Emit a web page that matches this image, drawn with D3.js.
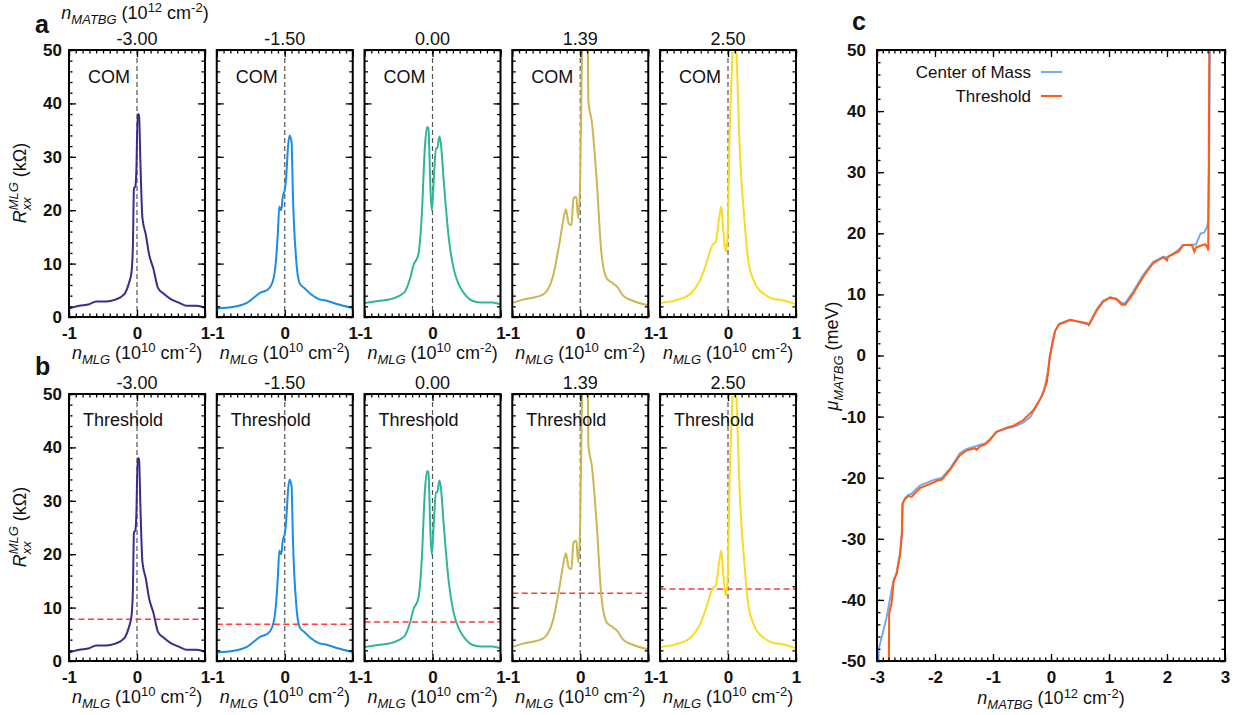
<!DOCTYPE html>
<html><head><meta charset="utf-8">
<script src="https://cdn.jsdelivr.net/npm/d3@7"></script>
<style>
body{margin:0;background:#fff}
text{font-family:"Liberation Sans",Arial,sans-serif;fill:#111}
</style></head>
<body><svg id="chart" width="1244" height="715"></svg>
<script>
// ---------------- data ----------------
const densityLabels = ["-3.00","-1.50","0.00","1.39","2.50"];
const curveColors = ["#3b2c8c","#1b8ce3","#2fb597","#cdb551","#f9dc1f"];
const thresholds = [7.8, 6.9, 7.3, 12.7, 13.5];

// R_xx^MLG (kOhm) vs n_MLG (1e10 cm^-2), one array per n_MATBG
const rxx_m300 = [[-1,1.6],[-0.85,2.1],[-0.7,2.4],[-0.6,2.9],[-0.46,2.9],[-0.31,3.3],[-0.23,3.8],[-0.17,4.6],[-0.12,6.3],[-0.08,8.5],[-0.06,13.5],[-0.045,24.1],[-0.025,24.4],[-0.01,27.2],[0.01,38],[0.03,37.8],[0.05,29],[0.08,18.5],[0.13,15.4],[0.18,11.6],[0.24,9.1],[0.31,5.4],[0.39,4.4],[0.49,3.4],[0.63,2.6],[0.73,2.1],[0.88,2.1],[1,1.7]];
const rxx_m150 = [[-1,1.6],[-0.75,1.9],[-0.55,2.7],[-0.35,4.6],[-0.25,5.1],[-0.18,6.5],[-0.13,10.4],[-0.10,16],[-0.08,20.7],[-0.05,20],[-0.03,22.5],[0.0,23.8],[0.02,26],[0.05,32.2],[0.07,34],[0.10,32.8],[0.12,22.8],[0.17,10.4],[0.22,6.3],[0.29,5.4],[0.39,4.2],[0.49,3.4],[0.63,3.0],[0.78,2.4],[1,1.7]];
const rxx_000 = [[-1,2.6],[-0.8,3.0],[-0.6,3.4],[-0.41,4.7],[-0.33,7.2],[-0.28,9.7],[-0.21,11.6],[-0.16,18.5],[-0.11,32.2],[-0.08,35.6],[-0.06,35.3],[-0.03,23.8],[-0.01,20],[0.02,26],[0.05,31.6],[0.07,31.6],[0.10,33.8],[0.12,32.8],[0.17,24.7],[0.24,14.7],[0.31,9.1],[0.39,6],[0.49,4],[0.59,3],[0.73,2.7],[0.88,2.7],[1,2.4]];
const rxx_139 = [[-1,2.6],[-0.85,3.2],[-0.55,4.2],[-0.41,7.2],[-0.31,13.5],[-0.23,19.4],[-0.21,20.2],[-0.17,17.5],[-0.13,17.2],[-0.10,22.2],[-0.06,22.5],[-0.03,18.5],[0.0,26],[0.02,44.7],[0.04,56],[0.08,62],[0.11,52],[0.12,40.3],[0.17,36.6],[0.24,26],[0.31,12.2],[0.39,7.2],[0.46,6.5],[0.54,5.7],[0.63,4],[0.78,3],[1,2.2]];
const rxx_250 = [[-1,2.6],[-0.75,3.2],[-0.55,4.4],[-0.41,6.9],[-0.31,10.4],[-0.23,13.5],[-0.18,14.1],[-0.13,18.5],[-0.10,20.7],[-0.08,17.9],[-0.05,13.5],[-0.03,12.2],[0.0,17.2],[0.02,32.2],[0.06,47.2],[0.09,58],[0.13,47.8],[0.17,32.2],[0.24,18.5],[0.30,10.4],[0.39,6.5],[0.54,4.2],[0.66,3.4],[0.78,3.2],[1,2.4]];
const rxxCurves = [rxx_m300, rxx_m150, rxx_000, rxx_139, rxx_250];

// mu_MATBG (meV) vs n_MATBG (1e12 cm^-2)
const mu_com = [[-2.98,-52],[-2.97,-48],[-2.89,-45],[-2.83,-42.7],[-2.78,-40],[-2.72,-37],[-2.66,-35.5],[-2.60,-32.2],[-2.57,-29],[-2.56,-24.5],[-2.52,-23.4],[-2.46,-22.8],[-2.40,-22.6],[-2.26,-21.3],[-2.03,-20.4],[-1.88,-20.0],[-1.74,-18.5],[-1.57,-16.0],[-1.45,-15.3],[-1.31,-14.9],[-1.22,-14.6],[-1.14,-14.4],[-1.05,-13.7],[-0.94,-12.5],[-0.76,-11.9],[-0.65,-11.7],[-0.48,-11.0],[-0.35,-10.0],[-0.22,-7.8],[-0.12,-5.8],[-0.05,-2.5],[-0.02,-0.2],[0.03,2.3],[0.07,4.0],[0.14,5.2],[0.33,5.9],[0.62,5.1],[0.66,5.1],[0.79,7.6],[0.90,9.0],[1.02,9.5],[1.13,9.3],[1.22,8.6],[1.28,8.6],[1.42,10.5],[1.59,13.2],[1.76,15.3],[1.94,16.2],[2.0,16.0],[2.20,17.3],[2.28,18.1],[2.43,18.1],[2.50,18.2],[2.58,20.0],[2.64,20.1],[2.69,21],[2.71,22],[2.73,35],[2.74,52]];
const mu_thr = [[-2.80,-52],[-2.795,-49.8],[-2.79,-42.2],[-2.75,-40.6],[-2.71,-36.8],[-2.66,-35.7],[-2.60,-32.4],[-2.57,-29.1],[-2.56,-24.2],[-2.52,-23.5],[-2.46,-23.0],[-2.40,-23.1],[-2.26,-21.7],[-2.03,-20.8],[-1.97,-20.5],[-1.88,-20.3],[-1.74,-18.7],[-1.57,-16.3],[-1.45,-15.5],[-1.31,-15.2],[-1.28,-15.4],[-1.22,-14.8],[-1.14,-14.6],[-1.05,-13.8],[-0.94,-12.5],[-0.76,-11.8],[-0.65,-11.5],[-0.48,-10.6],[-0.30,-8.9],[-0.16,-6.7],[-0.07,-4.3],[-0.02,-0.2],[0.03,2.3],[0.07,4.0],[0.14,5.1],[0.33,5.8],[0.62,5.3],[0.65,5.0],[0.79,7.4],[0.90,8.8],[1.02,9.5],[1.13,9.2],[1.22,8.3],[1.28,8.3],[1.42,10.2],[1.59,12.9],[1.76,15.1],[1.94,16.1],[2.0,15.6],[2.02,16.2],[2.20,17.0],[2.28,18.1],[2.43,18.1],[2.47,17.0],[2.50,17.7],[2.66,18.2],[2.70,17.6],[2.71,17.2],[2.72,30],[2.73,52]];

// tick values
const mlgTicks = [-1, 0, 1];
const mlgMinor = d3.range(-1, 1.0001, 0.1);
const rTicks = [0, 10, 20, 30, 40, 50];
const rMinor = d3.range(0, 50.001, 2);
const cXTicks = [-3, -2, -1, 0, 1, 2, 3];
const cXMinor = d3.range(-3, 3.0001, 0.1);
const cYTicks = [-50, -40, -30, -20, -10, 0, 10, 20, 30, 40, 50];
const cYMinor = d3.range(-50, 50.001, 2);

// ---------------- drawing ----------------
const svg = d3.select("#chart");

function styleAxis(g) {
  g.select(".domain").remove();
  g.selectAll(".tick line").attr("stroke", "#000").attr("stroke-width", 1.3);
  g.selectAll(".tick text").attr("font-size", 17).attr("font-weight", "bold").attr("fill", "#111");
}

function frameTicks(g, x, y, w, h, xT, xM, yT, yM, showX, showY, padX, padY) {
  const mk = (axis, tr, vals, len, labels, pad) => {
    const a = g.append("g").attr("transform", tr).call(
      axis.tickValues(vals).tickSize(-len).tickPadding(pad || 8).tickFormat(labels ? (d => String(d)) : ""));
    styleAxis(a);
    return a;
  };
  mk(d3.axisBottom(x), `translate(0,${h})`, xM, 3.5, false);
  mk(d3.axisBottom(x), `translate(0,${h})`, xT, 7, showX, padX);
  mk(d3.axisTop(x), `translate(0,0)`, xM, 3.5, false);
  mk(d3.axisTop(x), `translate(0,0)`, xT, 7, false);
  mk(d3.axisLeft(y), `translate(0,0)`, yM, 3.5, false);
  mk(d3.axisLeft(y), `translate(0,0)`, yT, 7, showY, padY);
  mk(d3.axisRight(y), `translate(${w},0)`, yM, 3.5, false);
  mk(d3.axisRight(y), `translate(${w},0)`, yT, 7, false);
  g.append("rect").attr("width", w).attr("height", h).attr("fill", "none").attr("stroke", "#000").attr("stroke-width", 2);
}

// n_X (10^E cm^-2) label
function densityLabel(sel, sub, exp, sup) {
  const s = sup || 7;
  sel.append("tspan").attr("font-style", "italic").text("n");
  sel.append("tspan").attr("font-style", "italic").attr("font-size", 13).attr("dy", 5).text(sub);
  sel.append("tspan").attr("dy", -5).text(" (10");
  sel.append("tspan").attr("font-size", 13).attr("dy", -s).text(exp);
  sel.append("tspan").attr("dy", s).text(" cm");
  sel.append("tspan").attr("font-size", 13).attr("dy", -s).text("-2");
  sel.append("tspan").attr("dy", s).text(")");
}

const frameW = 136, frameH = 267;
const frameLefts = densityLabels.map((d, i) => 69 + i * 147.75);
const rowTops = [50, 394];
const rowTags = ["COM", "Threshold"];

const xMLG = d3.scaleLinear().domain([-1, 1]).range([0, frameW]);
const yR = d3.scaleLinear().domain([0, 50]).range([frameH, 0]);
const rLine = d3.line().x(d => xMLG(d[0])).y(d => yR(d[1])).curve(d3.curveMonotoneX);

svg.append("defs").append("clipPath").attr("id", "fclip")
  .append("rect").attr("width", frameW).attr("height", frameH);

rowTops.forEach((top, row) => {
  densityLabels.forEach((lab, i) => {
    const g = svg.append("g").attr("transform", `translate(${frameLefts[i]},${top})`);
    g.append("line").attr("x1", xMLG(0)).attr("x2", xMLG(0)).attr("y1", 0).attr("y2", frameH)
      .attr("stroke", "#555").attr("stroke-width", 1.2).attr("stroke-dasharray", "5,3");
    if (row === 1) {
      g.append("line").attr("x1", 0).attr("x2", frameW).attr("y1", yR(thresholds[i])).attr("y2", yR(thresholds[i]))
        .attr("stroke", "#ff3b3b").attr("stroke-width", 1.5).attr("stroke-dasharray", "6,3.5");
    }
    g.append("path").attr("d", rLine(rxxCurves[i])).attr("clip-path", "url(#fclip)")
      .attr("fill", "none").attr("stroke", curveColors[i]).attr("stroke-width", 2);
    frameTicks(g, xMLG, yR, frameW, frameH, mlgTicks, mlgMinor, rTicks, rMinor, true, i === 0, 10, 7);
    g.append("text").attr("x", row === 0 ? 19 : 14).attr("y", row === 0 ? 33 : 32)
      .attr("font-size", 18).text(rowTags[row]);
    g.append("text").attr("x", frameW / 2).attr("y", -5).attr("text-anchor", "middle")
      .attr("font-size", 18).text(lab);
    const xl = g.append("text").attr("x", frameW / 2).attr("y", frameH + 42).attr("text-anchor", "middle").attr("font-size", 18);
    densityLabel(xl, "MLG", "10");
  });
  const yl = svg.append("text").attr("transform", `translate(26,${top + 133}) rotate(-90)`)
    .attr("text-anchor", "middle").attr("font-size", 18);
  yl.append("tspan").attr("font-style", "italic").text("R");
  yl.append("tspan").attr("font-style", "italic").attr("font-size", 13).attr("dy", 5).text("xx");
  yl.append("tspan").attr("font-style", "italic").attr("font-size", 13).attr("dx", -13).attr("dy", -13).text("MLG");
  yl.append("tspan").attr("dy", 8).text(" (kΩ)");
});

// panel letters and top title
svg.append("text").attr("x", 35).attr("y", 33).attr("font-size", 25).attr("font-weight", "bold").text("a");
svg.append("text").attr("x", 35).attr("y", 375).attr("font-size", 25).attr("font-weight", "bold").text("b");
svg.append("text").attr("x", 852).attr("y", 30).attr("font-size", 25).attr("font-weight", "bold").text("c");
const tt = svg.append("text").attr("x", 135).attr("y", 19).attr("text-anchor", "middle").attr("font-size", 18);
densityLabel(tt, "MATBG", "12");

// ---------------- panel c ----------------
const cL = 877, cT = 50, cW = 348, cH = 611;
const xC = d3.scaleLinear().domain([-3, 3]).range([0, cW]);
const yC = d3.scaleLinear().domain([-50, 50]).range([cH, 0]);
const cLine = d3.line().x(d => xC(d[0])).y(d => yC(d[1]));
const gc = svg.append("g").attr("transform", `translate(${cL},${cT})`);
gc.append("defs").append("clipPath").attr("id", "cclip").append("rect").attr("width", cW).attr("height", cH);
gc.append("path").attr("d", cLine(mu_com)).attr("clip-path", "url(#cclip)")
  .attr("fill", "none").attr("stroke", "#74a9f5").attr("stroke-width", 2);
gc.append("path").attr("d", cLine(mu_thr)).attr("clip-path", "url(#cclip)")
  .attr("fill", "none").attr("stroke", "#ff5a14").attr("stroke-width", 2);
frameTicks(gc, xC, yC, cW, cH, cXTicks, cXMinor, cYTicks, cYMinor, true, true, 10, 11);

// legend
const legend = [["Center of Mass", "#74a9f5"], ["Threshold", "#ff5a14"]];
legend.forEach((d, i) => {
  const y = 72 + i * 24;
  svg.append("text").attr("x", 1031).attr("y", y + 6).attr("text-anchor", "end").attr("font-size", 17).text(d[0]);
  svg.append("line").attr("x1", 1041).attr("x2", 1062).attr("y1", y).attr("y2", y)
    .attr("stroke", d[1]).attr("stroke-width", 2);
});

const cxl = svg.append("text").attr("x", cL + xC(0)).attr("y", 704).attr("text-anchor", "middle").attr("font-size", 18);
densityLabel(cxl, "MATBG", "12", 6);
const cyl = svg.append("text").attr("transform", `translate(838,356) rotate(-90)`).attr("text-anchor", "middle").attr("font-size", 18);
cyl.append("tspan").attr("font-style", "italic").text("μ");
cyl.append("tspan").attr("font-style", "italic").attr("font-size", 13).attr("dy", 5).text("MATBG");
cyl.append("tspan").attr("dy", -5).text(" (meV)");
</script></body></html>
